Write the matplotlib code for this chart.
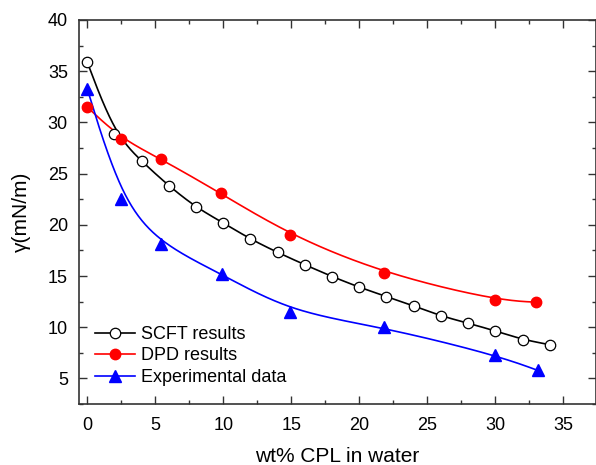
import numpy as np
import matplotlib
matplotlib.use("Agg")
import matplotlib.pyplot as plt
from matplotlib.ticker import MultipleLocator

plt.rcParams['font.family'] = ['Liberation Sans', 'DejaVu Sans']

scft_x = [0, 2, 4, 6, 8, 10, 12, 14, 16, 18, 20, 22, 24, 26, 28, 30, 32, 34]
scft_y = [35.9, 28.9, 26.2, 23.8, 21.7, 20.2, 18.6, 17.3, 16.1, 14.95, 13.9, 13.0,
          12.1, 11.1, 10.4, 9.65, 8.8, 8.3]
dpd_x = [0, 2.5, 5.4, 9.8, 14.9, 21.8, 30.0, 33.0]
dpd_y = [31.5, 28.4, 26.45, 23.1, 19.0, 15.25, 12.65, 12.45]
exp_x = [0, 2.5, 5.4, 9.9, 14.9, 21.8, 30.0, 33.1]
exp_y = [33.3, 22.5, 18.1, 15.2, 11.5, 10.0, 7.3, 5.8]

xticks = [0, 5, 10, 15, 20, 25, 30, 35]
yticks = [5, 10, 15, 20, 25, 30, 35, 40]


def bspline(x, y, n=60):
    """Uniform cubic B-spline using the data points as control points
    (end points repeated so the curve starts and ends on them)."""
    P = np.column_stack([x, y]).astype(float)
    P = np.vstack([P[0], P[0], P, P[-1], P[-1]])
    t = np.linspace(0, 1, n)
    b0 = (1 - t) ** 3 / 6
    b1 = (3 * t ** 3 - 6 * t ** 2 + 4) / 6
    b2 = (-3 * t ** 3 + 3 * t ** 2 + 3 * t + 1) / 6
    b3 = t ** 3 / 6
    segs = []
    for i in range(len(P) - 3):
        seg = (np.outer(b0, P[i]) + np.outer(b1, P[i + 1])
               + np.outer(b2, P[i + 2]) + np.outer(b3, P[i + 3]))
        segs.append(seg)
    c = np.vstack(segs)
    return c[:, 0], c[:, 1]


fig = plt.figure(figsize=(5.96, 4.65), dpi=100)
ax = fig.add_axes([0.1326, 0.131, 0.8674, 0.826])

lw = 1.2
for xs, ys, col in [(scft_x, scft_y, 'black'), (dpd_x, dpd_y, 'red'), (exp_x, exp_y, 'blue')]:
    sx, sy = bspline(xs, ys)
    ax.plot(sx, sy, color=col, lw=lw, zorder=2)

ax.plot(scft_x, scft_y, 'o', ms=7.5, mfc='white', mec='black', mew=0.9, zorder=3)
ax.plot(dpd_x, dpd_y, 'o', ms=7.5, mfc='red', mec='red', zorder=3)
ax.plot(exp_x, exp_y, '^', ms=8.5, mfc='blue', mec='blue', zorder=3)

h1, = ax.plot([], [], '-o', color='black', lw=lw, ms=7.5, mfc='white', mec='black', mew=0.9)
h2, = ax.plot([], [], '-o', color='red', lw=lw, ms=7.5, mfc='red', mec='red')
h3, = ax.plot([], [], '-^', color='blue', lw=lw, ms=8.5, mfc='blue', mec='blue')
ax.legend([h1, h2, h3], ['SCFT results', 'DPD results', 'Experimental data'],
          loc='lower left', bbox_to_anchor=(0.0, 0.005), frameon=False, fontsize=13,
          handlelength=2.2, handletextpad=0.35, labelspacing=0.25, borderaxespad=0.5)

ax.set_xlim(-0.6, 37.4)
ax.set_ylim(2.5, 40)
ax.set_xticks(xticks)
ax.set_yticks(yticks)
ax.xaxis.set_minor_locator(MultipleLocator(2.5))
ax.yaxis.set_minor_locator(MultipleLocator(2.5))
ax.tick_params(which='both', direction='in', top=True, right=True, labelsize=13,
               color='#333333', width=1.0)
ax.tick_params(which='major', length=5.5)
ax.tick_params(which='minor', length=3)
ax.tick_params(axis='x', which='major', pad=9.5)
ax.tick_params(axis='y', which='major', pad=8)
for s in ax.spines.values():
    s.set_linewidth(1.2)
    s.set_color('#333333')

ax.set_xlabel('wt% CPL in water', fontsize=15, labelpad=9)
ax.set_ylabel('γ(mN/m)', fontsize=15, labelpad=12)

fig.savefig('out.png', dpi=100)
